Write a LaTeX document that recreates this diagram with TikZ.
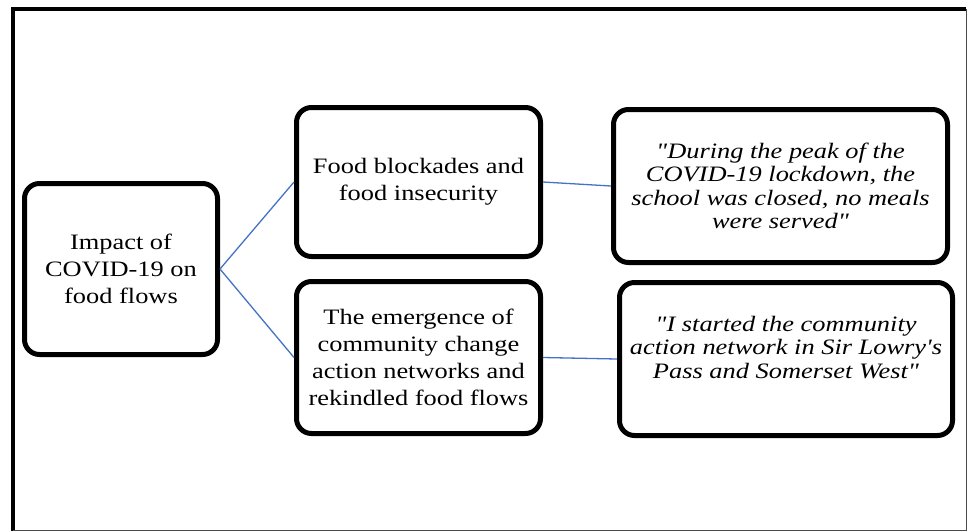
\documentclass[tikz,border=0pt]{standalone}
\usepackage{fontspec}
\setmainfont{Liberation Serif}[FakeStretch=1.2,Ligatures=TeXOff]
\usepackage{tikz}
\definecolor{linkblue}{RGB}{68,114,196}
\tikzstyle{box}=[rectangle,draw,line width=5pt,rounded corners=15pt,align=center,inner sep=2pt]
\tikzstyle{plain}=[font=\fontsize{22}{27}\selectfont]
\tikzstyle{quote}=[font=\fontsize{22}{23.5}\selectfont\itshape]
\tikzstyle{link} = [draw, linkblue, line width=1.3pt]

\begin{document}
\begin{tikzpicture}[x=1pt,y=-1pt]
  \useasboundingbox (0,0) rectangle (969,531);
  % frame
  \draw[line width=4pt] (13,531) -- (13,9) -- (966,9);
  \draw[line width=1pt,black!70] (966,9) -- (966,530) -- (13,530);
  % boxes
  \node[box,plain,minimum width=193pt,minimum height=171pt] (impact) at (121,269) {Impact of\\COVID-19 on\\food flows};
  \node[box,plain,minimum width=244pt,minimum height=149pt] (blockade) at (418.5,182) {Food blockades and\\food insecurity};
  \node[box,plain,minimum width=244pt,minimum height=152pt] (emergence) at (418.5,357.5) {The emergence of\\community change\\action networks and\\rekindled food flows};
  \node[box,quote,minimum width=334pt,minimum height=153pt] (peak) at (780.5,186) {"During the peak of the\\COVID-19 lockdown, the\\school was closed, no meals\\were served"};
  \node[box,quote,minimum width=333pt,minimum height=153pt,text depth=24pt] (started) at (786,359) {"I started the community\\action network in Sir Lowry's\\Pass and Somerset West"};
  % links
  \path [link] (impact.east) -- (blockade.west);
  \path [link] (impact.east) -- (emergence.west);
  \path [link] (blockade.east) -- (peak.west);
  \path [link] (emergence.east) -- (started.west);
\end{tikzpicture}
\end{document}
